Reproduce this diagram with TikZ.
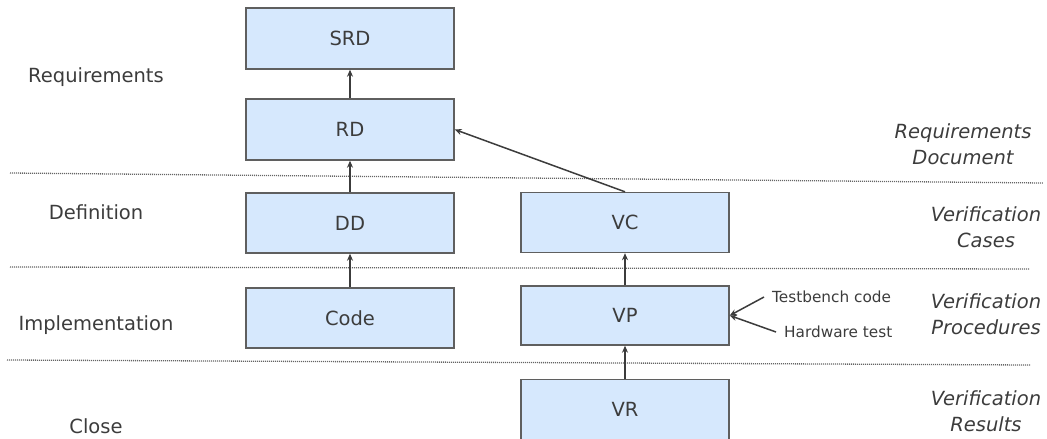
\documentclass[tikz,border=0pt]{standalone}
\usepackage{fontspec}
\setmainfont{DejaVu Sans}
\usetikzlibrary{arrows.meta}
\definecolor{boxfill}{RGB}{214,232,253}
\definecolor{boxline}{RGB}{95,95,95}
\definecolor{ink}{RGB}{60,60,60}
\definecolor{sep}{RGB}{100,100,100}
\tikzset{
  stage/.style={draw=boxline, fill=boxfill, line width=1.4pt, minimum width=208pt,
    minimum height=60pt, inner sep=0pt, text=ink,
    font=\fontsize{19.5}{23}\selectfont},
  phase/.style={text=ink, font=\fontsize{19.5}{23}\selectfont},
  artefact/.style={text=ink, align=center, font=\fontsize{19.5}{26}\selectfont\itshape},
  source/.style={text=ink, inner xsep=8pt, font=\fontsize{15.3}{18}\selectfont},
  arr/.style={draw=ink, line width=1.5pt, -{Stealth[length=7pt,width=6pt]}},
  divider/.style={draw=sep, line width=1.3pt, dash pattern=on 1pt off 1pt}
}
\begin{document}
\begin{tikzpicture}[x=1pt,y=-1pt]
\useasboundingbox (0,0) rectangle (1047,439);
\clip (0,0) rectangle (1047,439);

% phase separators
\draw[divider] (10,173) -- (1043,183);
\draw[divider] (10,267) -- (1030,269);
\draw[divider] (7,360) -- (1030,365);

% document chain
\node[stage, minimum height=61pt] (SRD) at (350,38.5) {SRD};
\node[stage, minimum height=61pt] (RD) at (350,129.5) {RD};
\node[stage] (DD) at (350,223) {DD};
\node[stage] (Code) at (350,318) {Code};

% verification chain
\node[stage] (VC) at (625,222.5) {VC};
\node[stage, minimum height=59pt] (VP) at (625,315.5) {VP};
\node[stage] (VR) at (625,409.5) {VR};

% phase names
\node[phase] (pReq) at (96,77) {Requirements};
\node[phase] (pDef) at (96,212) {Definition};
\node[phase] (pImp) at (96,325) {Implementation};
\node[phase] (pClo) at (96,426) {Close};

% artefact names
\node[artefact] (aRD) at (963,144) {Requirements\\Document};
\node[artefact] (aVC) at (986,227) {Verification\\Cases};
\node[artefact] (aVP) at (986,314) {Verification\\Procedures};
\node[artefact] (aVR) at (986,411) {Verification\\Results};

% inputs of the procedures
\node[source, anchor=west] (tb) at (764,297) {Testbench code};
\node[source, anchor=west] (hw) at (776,332) {Hardware test};

% connectors
\draw[arr] (RD) -- (SRD);
\draw[arr] (DD) -- (RD);
\draw[arr] (Code) -- (DD);
\draw[arr] (VP) -- (VC);
\draw[arr] (VR) -- (VP);
\draw[arr] (VC.north) -- (RD.east);
\draw[arr] (tb.west) -- (VP.east);
\draw[arr] (hw.west) -- (VP.east);
\end{tikzpicture}
\end{document}
